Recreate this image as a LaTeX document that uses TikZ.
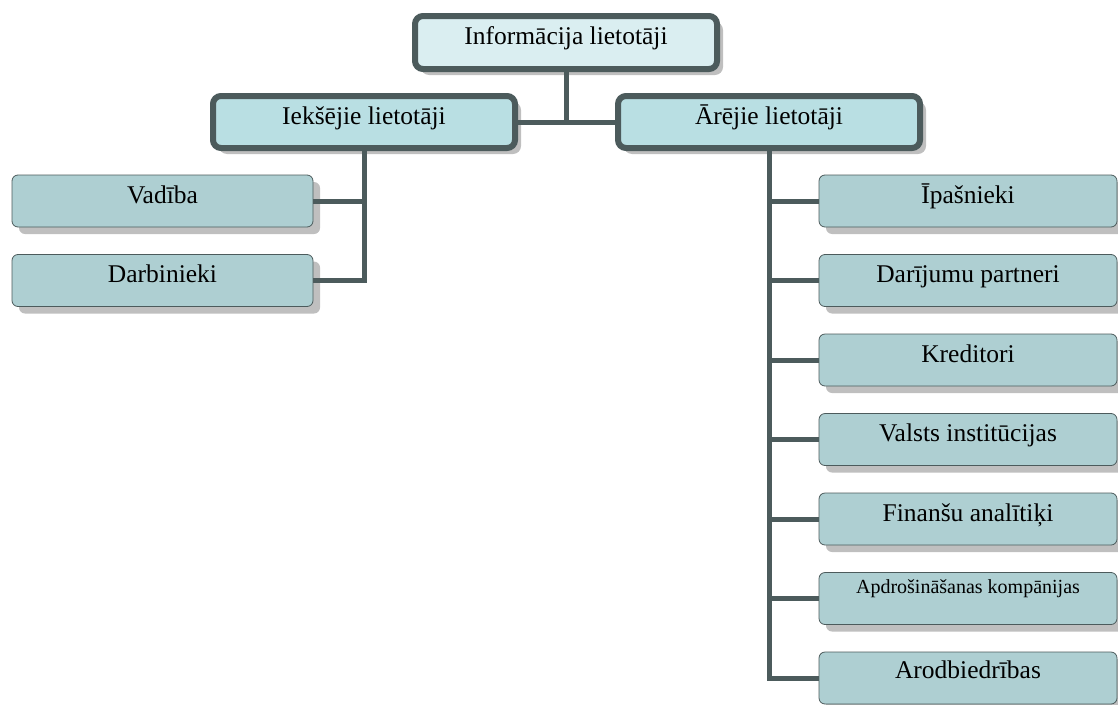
\documentclass[tikz,border=0pt]{standalone}
\usepackage{fontspec}
\setmainfont{Liberation Serif}
\usetikzlibrary{shadows}
\definecolor{edgec}{HTML}{4C5B5C}
\definecolor{topfill}{HTML}{DAEEF1}
\definecolor{midfill}{HTML}{B9DFE3}
\definecolor{leaffill}{HTML}{AECFD2}
\definecolor{shadowc}{HTML}{BFBFBF}
\tikzset{
  headbox/.style={draw=edgec, line width=6pt, rounded corners=8pt, anchor=north west,
    inner sep=0pt, outer sep=0pt, minimum width=302pt, text height=28pt, text depth=24pt,
    font=\fontsize{25.5}{28}\selectfont, text=black,
    drop shadow={shadow xshift=6pt, shadow yshift=-6pt, fill=shadowc, opacity=1}},
  leafbox/.style={draw=edgec, line width=0.8pt, rounded corners=6pt, anchor=north west,
    fill=leaffill, inner sep=0pt, outer sep=0pt, text height=28pt, text depth=24pt,
    font=\fontsize{25.5}{28}\selectfont, text=black,
    drop shadow={shadow xshift=7pt, shadow yshift=-7pt, fill=shadowc, opacity=1}},
  link/.style={draw=edgec, line width=5pt}
}
\begin{document}
\begin{tikzpicture}[x=1pt,y=-1pt]
\useasboundingbox (0,0) rectangle (1118,704);
% level 0 and 1
\node[headbox, fill=topfill, text height=28pt, text depth=25pt] (top) at (415,16) {Informācija lietotāji};
\node[headbox, fill=midfill] (iek) at (213,96) {Iekšējie lietotāji};
\node[headbox, fill=midfill] (are) at (618,96) {Ārējie lietotāji};
% left leaves
\node[leafbox, minimum width=301pt] (vad) at (12,175) {Vadība};
\node[leafbox, minimum width=301pt] (darb) at (12,254.5) {Darbinieki};
% right leaves
\node[leafbox, minimum width=298pt] (ipa) at (819,175) {Īpašnieki};
\node[leafbox, minimum width=298pt] (dar) at (819,254.5) {Darījumu partneri};
\node[leafbox, minimum width=298pt] (kre) at (819,334) {Kreditori};
\node[leafbox, minimum width=298pt] (val) at (819,413.5) {Valsts institūcijas};
\node[leafbox, minimum width=298pt] (fin) at (819,493) {Finanšu analītiķi};
\node[leafbox, minimum width=298pt, font=\fontsize{20}{24}\selectfont, text height=21pt, text depth=31pt] (apd) at (819,572.5) {Apdrošināšanas kompānijas};
\node[leafbox, minimum width=298pt, text height=26pt, text depth=26pt] (aro) at (819,652) {Arodbiedrības};
% connectors
\draw[link] (iek.east) -- (are.west);
\draw[link] (top.south) -- (top.south |- iek.east);
\draw[link] (iek.south) |- (vad.east);
\draw[link] (iek.south) |- (darb.east);
\foreach \n in {ipa,dar,kre,val,fin,apd,aro}{
  \draw[link] (are.south) |- (\n.west);
}
\end{tikzpicture}
\end{document}
